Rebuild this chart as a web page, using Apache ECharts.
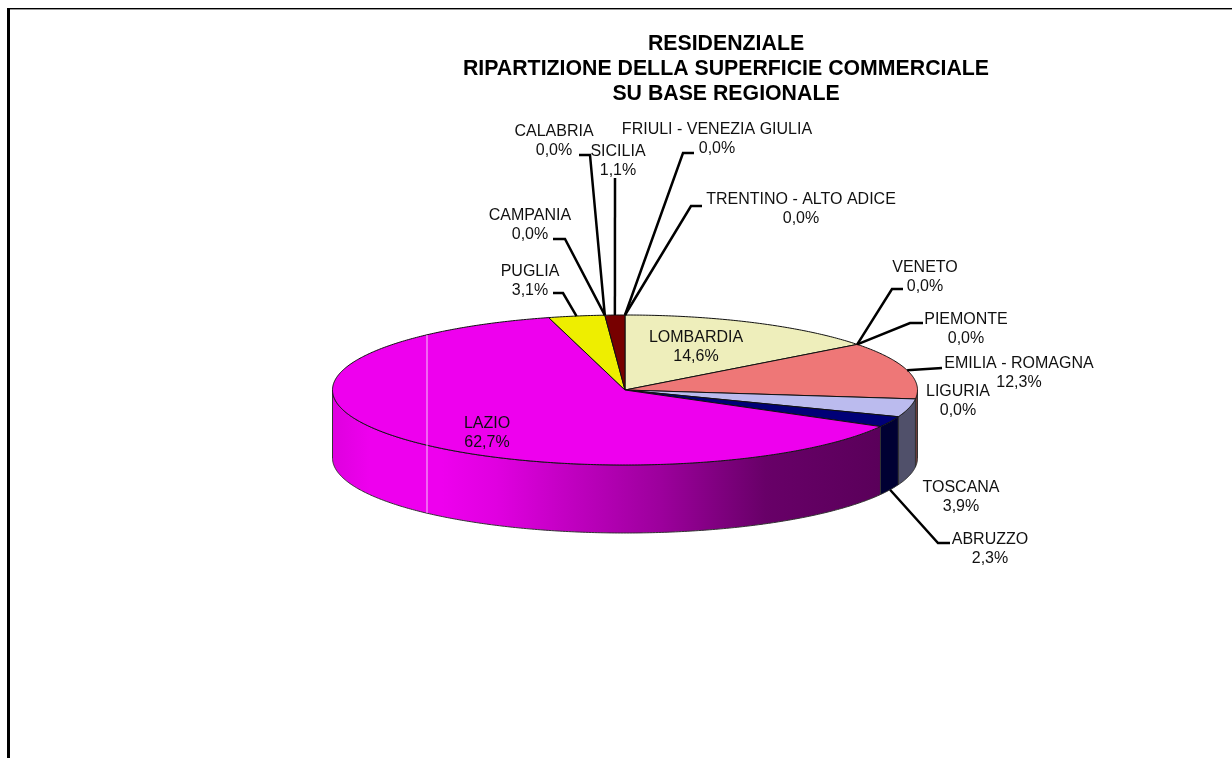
<!DOCTYPE html>
<html>
<head>
<meta charset="utf-8">
<title>Residenziale</title>
<script src="https://cdn.jsdelivr.net/npm/echarts@6/dist/echarts.min.js"></script>
<style>
  html, body { margin: 0; padding: 0; background: #fff; }
  #chart { width: 1232px; height: 758px; }
</style>
</head>
<body>
<div id="chart"></div>
<script>
// regioni in senso orario a partire dalle ore 12
const categories = ['FRIULI - VENEZIA GIULIA', 'TRENTINO - ALTO ADICE', 'LOMBARDIA', 'VENETO', 'PIEMONTE',
  'EMILIA - ROMAGNA', 'LIGURIA', 'TOSCANA', 'ABRUZZO', 'LAZIO', 'PUGLIA', 'CAMPANIA', 'CALABRIA', 'SICILIA']
const values = [0, 0, 14.6, 0, 0, 12.3, 0, 3.9, 2.3, 62.7, 3.1, 0, 0, 1.1]
const titleText = 'RESIDENZIALE\nRIPARTIZIONE DELLA SUPERFICIE COMMERCIALE\nSU BASE REGIONALE'

// colori faccia superiore / fianco
const topColors = ['#777700', '#007777', '#EEEEBB', '#777777', '#777777', '#EE7777', '#777777', '#BBBBEE', '#000077', '#EE00EE', '#EEEE00', '#777777', '#777777', '#770000']
const sideColors = ['#333300', '#003333', '#77775E', '#333333', '#333333', '#6B3A3A', '#333333', '#50506A', '#000033', '#EE00EE', '#777700', '#333333', '#333333', '#330000']

// geometria della torta
const pie = { cx: 625, cy: 390, rx: 292.5, ry: 75, depth: 68 }

// centro delle etichette
const labelPos = [[717, 139], [801, 209], [696, 347], [925, 277], [966, 329], [1019, 373], [958, 401],
  [961, 497], [990, 549], [487, 433], [530, 281], [530, 225], [554, 141], [618, 161]]
// gomiti delle linee guida
const leaderBends = [
  [[683, 153], [694, 153]], [[691, 206], [702, 206]], null, [[892, 289], [903, 289]], [[910, 323], [923, 323]],
  [[942, 368]], null, null, [[938, 543], [950, 543]], null,
  [[563, 293], [553, 293]], [[565, 239], [553, 239]], [[590, 155], [579, 155]], [[615, 178]]
]

const total = values.reduce((a, b) => a + b, 0)
let running = 0
const slices = values.map((v, i) => {
  const start = running
  running += v
  return [start, running, i]
})

function toAngle(v) {
  return v / total * Math.PI * 2
}

function edgePoint(a, yOffset) {
  return [pie.cx + pie.rx * Math.sin(a), pie.cy + yOffset - pie.ry * Math.cos(a)]
}

function arcPoints(a0, a1, yOffset) {
  const steps = Math.max(2, Math.ceil(Math.abs(a1 - a0) / 0.01))
  const pts = []
  for (let i = 0; i <= steps; i++) {
    pts.push(edgePoint(a0 + (a1 - a0) * i / steps, yOffset))
  }
  return pts
}

function renderSide(params, api) {
  const i = api.value(2)
  // solo la parte frontale del fianco e' visibile
  const a0 = Math.max(toAngle(api.value(0)), Math.PI / 2)
  const a1 = Math.min(toAngle(api.value(1)), Math.PI * 1.5)
  if (a1 <= a0) return null
  const points = arcPoints(a0, a1, 0).concat(arcPoints(a1, a0, pie.depth))
  const fill = categories[i] === 'LAZIO'
    ? new echarts.graphic.LinearGradient(332, 0, 881, 0, [
        { offset: 0, color: '#DE00DE' },
        { offset: 0.07, color: '#EE00EE' },
        { offset: 0.2, color: '#EE00EE' },
        { offset: 0.3, color: '#E000E0' },
        { offset: 0.42, color: '#C400C4' },
        { offset: 0.6, color: '#9C009C' },
        { offset: 0.79, color: '#680068' },
        { offset: 1, color: '#5A005A' }
      ], true)
    : sideColors[i]
  return {
    type: 'polygon',
    shape: { points: points },
    style: { fill: fill, stroke: '#333', lineWidth: 1 }
  }
}

function renderTop(params, api) {
  const i = api.value(2)
  const a0 = toAngle(api.value(0))
  const a1 = toAngle(api.value(1))
  if (a1 <= a0) return null
  const points = [[pie.cx, pie.cy]].concat(arcPoints(a0, a1, 0))
  return {
    type: 'polygon',
    shape: { points: points },
    style: { fill: topColors[i], stroke: '#111', lineWidth: 1 }
  }
}

function renderLabel(params, api) {
  const i = api.value(2)
  const mid = toAngle((api.value(0) + api.value(1)) / 2)
  const children = []
  if (leaderBends[i]) {
    const front = mid > Math.PI / 2 && mid < Math.PI * 1.5
    children.push({
      type: 'polyline',
      shape: { points: [edgePoint(mid, front ? pie.depth : 0)].concat(leaderBends[i]) },
      style: { fill: 'none', stroke: '#000', lineWidth: 2.5 }
    })
  }
  children.push({
    type: 'text',
    style: {
      x: labelPos[i][0],
      y: labelPos[i][1],
      text: categories[i] + '\n' + values[i].toFixed(1).replace('.', ',') + '%',
      textAlign: 'center',
      textVerticalAlign: 'middle',
      fontFamily: '"Liberation Sans", Arial, sans-serif',
      fontSize: 16,
      lineHeight: 19,
      fill: '#111'
    }
  })
  return { type: 'group', children: children }
}

const chart = echarts.init(document.getElementById('chart'))
chart.setOption({
  animation: false,
  backgroundColor: '#fff',
  tooltip: { show: false },
  title: {
    text: titleText,
    left: 721,
    top: 27,
    textAlign: 'center',
    textStyle: {
      fontFamily: '"Liberation Sans", Arial, sans-serif',
      fontSize: 21.3,
      fontWeight: 'bold',
      color: '#000',
      lineHeight: 25
    }
  },
  graphic: [
    { type: 'rect', shape: { x: 7, y: 8, width: 3, height: 750 }, style: { fill: '#000' }, silent: true },
    { type: 'rect', shape: { x: 7, y: 8, width: 1225, height: 1 }, style: { fill: '#000' }, silent: true },
    { type: 'rect', shape: { x: 10, y: 9, width: 1222, height: 1 }, style: { fill: '#999' }, silent: true },
    { type: 'rect', z: 10, shape: { x: 426.5, y: 335, width: 1, height: 178 }, style: { fill: '#F6C8F6' }, silent: true }
  ],
  series: [
    { type: 'custom', coordinateSystem: 'none', z: 1, silent: true, renderItem: renderSide, data: slices },
    { type: 'custom', coordinateSystem: 'none', z: 2, silent: true, renderItem: renderTop, data: slices },
    { type: 'custom', coordinateSystem: 'none', z: 20, silent: true, renderItem: renderLabel, data: slices }
  ]
})
</script>
</body>
</html>
